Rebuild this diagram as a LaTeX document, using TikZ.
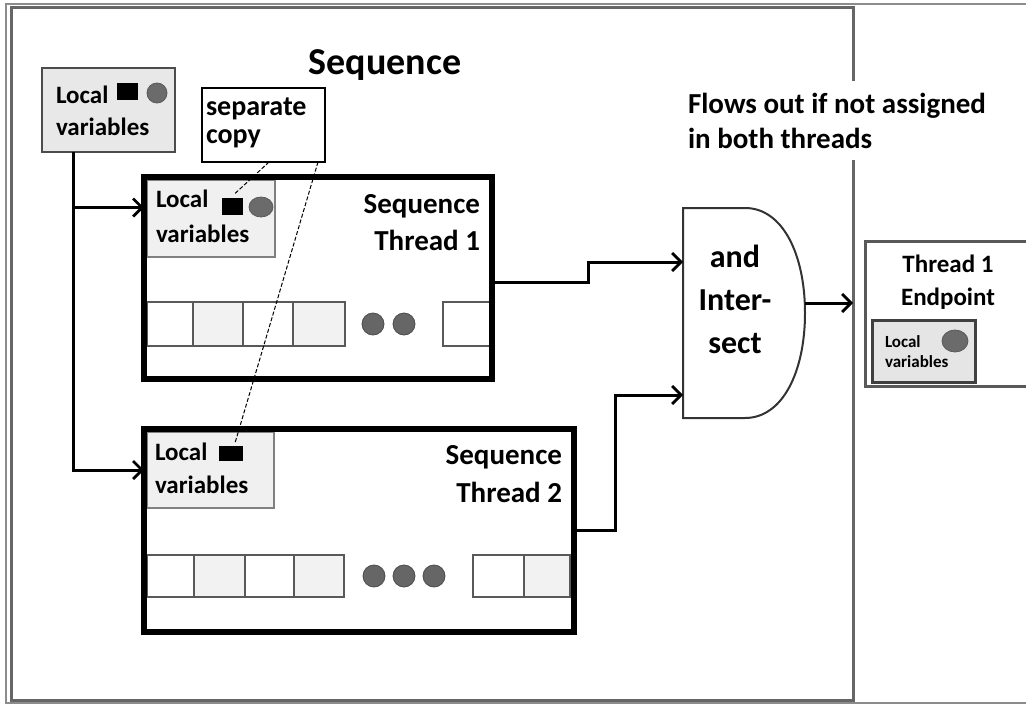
\documentclass[tikz,border=0pt]{standalone}
\usepackage{fontspec}
\setmainfont{Carlito}
\usetikzlibrary{arrows.meta}
\begin{document}
\begin{tikzpicture}[x=1pt,y=-1pt,
  every node/.style={inner sep=0pt,outer sep=0pt},
  arr/.style={line width=3pt,-{Straight Barb[length=9pt,width=18pt,line width=2.8pt]}},
  tbox/.style={draw=black,line width=6pt,fill=white,rectangle},
  lvout/.style={draw=black!70,line width=2.5pt,fill=black!9,rectangle},
  lvin/.style={draw=black!50,line width=1.5pt,fill=black!6,rectangle},
  lvtxt/.style={font=\bfseries\fontsize{25}{33}\selectfont,align=left,anchor=base west},
  lbl/.style={font=\bfseries\fontsize{29}{37}\selectfont,align=right,anchor=base east},
  sq/.style={fill=black,rectangle},
  blobc/.style={fill=black!58,draw=black!65,line width=0.8pt},
  cellw/.style={draw=black!65,line width=2pt,fill=white},
  cellg/.style={draw=black!65,line width=2pt,fill=black!5},
  dotc/.style={fill=black!60,draw=black!70,line width=0.8pt},
  dashln/.style={line width=1pt,dash pattern=on 4pt off 2pt}
]
\useasboundingbox (0,0) rectangle (1026,704);

% frames
\draw[black!45,line width=1.5pt] (6,4) rectangle (1034,703);
\node[draw=black!60,line width=3pt,minimum width=842pt,minimum height=693pt] (seq) at (432,353.5) {};
\node[font=\bfseries\fontsize{38}{44}\selectfont,anchor=base] (title) at (385,74) {Sequence};
\node[font=\bfseries\fontsize{29}{35}\selectfont,align=left,anchor=base west,fill=white,inner ysep=12pt] (flows) at (688,148) {Flows out if not assigned\\in both threads};

% top-left local variables
\node[lvout,minimum width=133pt,minimum height=84pt] (lv0) at (108.5,110) {};
\node[lvtxt,font=\bfseries\fontsize{25}{32}\selectfont] (lv0t) at (56,135) {Local\\variables};
\node[sq,minimum width=21pt,minimum height=17pt] (sq0) at (127.5,91.5) {};
\fill[blobc] (157,93) circle[radius=10pt];

% separate copy
\node[draw=black,line width=1.2pt,minimum width=123pt,minimum height=74pt,fill=white] (sep) at (263.5,125) {};
\node[font=\bfseries\fontsize{28}{28}\selectfont,align=left,anchor=base west] (sept) at (206,143) {separate\\copy};

% thread 1
\node[tbox,minimum width=348pt,minimum height=202pt] (t1) at (318,278) {};
\node[lvin,minimum width=128pt,minimum height=77pt] (lv1) at (211,218.5) {};
\node[lvtxt,font=\bfseries\fontsize{25}{35}\selectfont] (lv1t) at (156,242) {Local\\variables};
\node[sq,minimum width=21pt,minimum height=17pt] (sq1) at (232.5,206.5) {};
\fill[blobc] (261,207) ellipse[x radius=12pt,y radius=10pt];
\node[lbl] (t1l) at (480,250) {Sequence\\Thread 1};
\draw[cellw] (147,302) rectangle (193,346);
\draw[cellg] (193,302) rectangle (243,346);
\draw[cellw] (243,302) rectangle (293,346);
\draw[cellg] (293,302) rectangle (345,346);
\draw[cellw] (443,302) rectangle (490,346);
\fill[dotc] (373,324) circle[radius=11pt];
\fill[dotc] (404,324) circle[radius=11pt];
\draw[line width=6pt] (t1.north west) rectangle (t1.south east);

% thread 2
\node[tbox,minimum width=430pt,minimum height=203pt] (t2) at (359,530.5) {};
\node[lvin,minimum width=127pt,minimum height=76pt] (lv2) at (210.5,470) {};
\node[lvtxt] (lv2t) at (155,493) {Local\\variables};
\node[sq,minimum width=24pt,minimum height=15pt] (sq2) at (231,453.5) {};
\node[lbl,font=\bfseries\fontsize{29}{38}\selectfont] (t2l) at (562,502) {Sequence\\Thread 2};
\draw[cellw] (147,555) rectangle (194,597);
\draw[cellg] (194,555) rectangle (245,597);
\draw[cellw] (245,555) rectangle (294,597);
\draw[cellg] (294,555) rectangle (344,597);
\draw[cellw] (473,555) rectangle (524,597);
\draw[cellg] (524,555) rectangle (570,597);
\fill[dotc] (374,576) circle[radius=11pt];
\fill[dotc] (404,576) circle[radius=11pt];
\fill[dotc] (434,576) circle[radius=11pt];
\draw[line width=6pt] (t2.north west) rectangle (t2.south east);

% gate
\node[minimum width=122pt,minimum height=210pt] (gate) at (744,313) {};
\draw[draw=black!80,line width=2pt,fill=white] (gate.north west) -- ++(62,0)
  .. controls +(38,0) and +(0,-58) .. (gate.east)
  .. controls +(0,58) and +(38,0) .. ([xshift=62pt]gate.south west)
  -- (gate.south west) -- cycle;
\node[font=\bfseries\fontsize{32}{43}\selectfont,align=center,anchor=base] (gatet) at (735,353) {and\\Inter-\\sect};

% endpoint
\node[draw=black!65,line width=3pt,minimum width=170pt,minimum height=145pt,fill=white] (ep) at (950,313.5) {};
\node[font=\bfseries\fontsize{25}{33}\selectfont,align=center,anchor=base] (ept) at (948,305) {Thread 1\\Endpoint};
\node[draw=black!75,line width=3pt,fill=black!10,minimum width=103pt,minimum height=62pt] (eplv) at (923.5,351) {};
\node[font=\bfseries\fontsize{17}{20}\selectfont,align=left,anchor=base west] (eplvt) at (885,367) {Local\\variables};
\fill[blobc] (955,341) ellipse[x radius=13pt,y radius=11pt];

% connectors
\coordinate (trunk) at ([xshift=-35.5pt]lv0.south);
\coordinate (b1) at ([yshift=11pt]lv1.west);
\draw[arr] (trunk) |- (t2.west |- lv2.west);
\draw[arr] (trunk |- b1) -- (t1.west |- b1);
\draw[arr] ([yshift=-4pt]t1.east) -- ++(96,0) |- ([yshift=51pt]gate.west);
\draw[arr] (t2.east) -- ++(41,0) |- ([yshift=-82pt]gate.west);
\draw[arr] ([yshift=10pt]gate.east) -- ([yshift=10pt]gate.east -| seq.east);
\draw[dashln] ([xshift=5.5pt]sep.south) -- ([xshift=2pt,yshift=4pt]sq1.north);
\draw[dashln] ([xshift=54.5pt]sep.south) -- ([xshift=4pt,yshift=3pt]sq2.north);
\end{tikzpicture}
\end{document}
